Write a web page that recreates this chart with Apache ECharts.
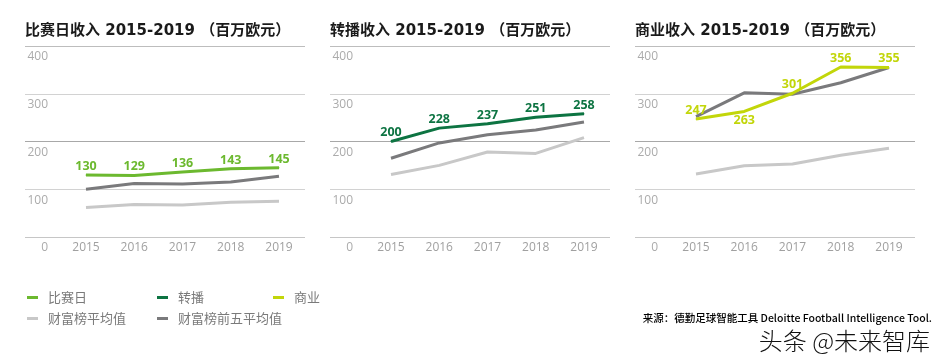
<!DOCTYPE html>
<html><head><meta charset="utf-8">
<script src="https://cdn.jsdelivr.net/npm/echarts@6/dist/echarts.min.js"></script>
<style>html,body{margin:0;padding:0;background:#fff}#c{width:940px;height:363px}</style>
</head><body><div id="c"></div>
<script>
const years = ['2015','2016','2017','2018','2019'];
const yTicks = [0,100,200,300,400];
const titles = ['比赛日收入 2015-2019 （百万欧元）','转播收入 2015-2019 （百万欧元）','商业收入 2015-2019 （百万欧元）'];
const mainNames = ['比赛日','转播','商业'];
const matchday = [130,129,136,143,145];
const broadcast = [200,228,237,251,258];
const commercial = [247,263,301,356,355];
const avgMatchday = [62,68,67,73,75];
const top5Matchday = [100,112,111,115,127];
const avgBroadcast = [131,150,178,175,208];
const top5Broadcast = [165,197,214,224,241];
const avgCommercial = [132,149,153,171,186];
const top5Commercial = [252,302,299,323,355];
const avgName = '财富榜平均值';
const top5Name = '财富榜前五平均值';
const sourceText = '来源：德勤足球智能工具 Deloitte Football Intelligence Tool.';
const watermark = '头条 @未来智库';

const colors = {'比赛日':'#6cb92f','转播':'#0d7442','商业':'#c2d60a'};
colors[avgName] = '#c8c8c8';
colors[top5Name] = '#7a7a7c';

const mainData = [matchday, broadcast, commercial];
const avgData = [avgMatchday, avgBroadcast, avgCommercial];
const top5Data = [top5Matchday, top5Broadcast, top5Commercial];
const labelPos = [
  ['top','top','top','top','top'],
  ['top','top','top','top','top'],
  ['top','bottom','top','top','top']
];

const panelLeft = [25, 330, 635];
const panelW = 280, gTop = 46, gH = 191;
const grid = [], xAxis = [], yAxis = [], series = [], title = [];
const font = "'Open Sans','Noto Sans CJK SC',sans-serif";

for (let p = 0; p < 3; p++) {
  const L = panelLeft[p];
  title.push({text: titles[p], left: L - 5, top: 19,
    textStyle:{fontFamily:"'DejaVu Sans','Noto Sans CJK SC',sans-serif", fontSize:15, fontWeight:'bold', color:'#1a1a1a'}});
  grid.push({left: L, top: gTop, width: panelW, height: gH});
  xAxis.push({type:'category', gridIndex: 2*p, data: years, show:false});
  yAxis.push({type:'value', gridIndex: 2*p, min:0, max:400, interval:100,
    axisLine:{show:false}, axisTick:{show:false},
    splitLine:{lineStyle:{color:['#c6c6c6','#d2d2d2','#a8a8a8','#d2d2d2','#bdbdbd'], width:1}},
    axisLabel:{inside:true, align:'right', verticalAlign:'top', margin:23, padding:[5,0,0,0],
      color:'#ababab', fontSize:12, fontFamily:font}});
  grid.push({left: L + 61, top: gTop, width: 193, height: gH});
  xAxis.push({type:'category', gridIndex: 2*p+1, data: years, boundaryGap:false,
    axisLine:{show:false}, axisTick:{show:false},
    axisLabel:{margin:5, color:'#a0a0a0', fontSize:12, fontFamily:font}});
  yAxis.push({type:'value', gridIndex: 2*p+1, min:0, max:400, show:false, splitLine:{show:false}});

  const base = {type:'line', xAxisIndex: 2*p+1, yAxisIndex: 2*p+1, smooth:false};
  series.push(Object.assign({}, base, {name: avgName, data: avgData[p], showSymbol:false, symbol:'none', lineStyle:{width:3, color: colors[avgName]}, itemStyle:{color: colors[avgName]}}));
  series.push(Object.assign({}, base, {name: top5Name, data: top5Data[p], showSymbol:false, symbol:'none', lineStyle:{width:3, color: colors[top5Name]}, itemStyle:{color: colors[top5Name]}}));
  const nm = mainNames[p];
  series.push(Object.assign({}, base, {name: nm, z: 5, showSymbol:true, symbol:'circle', symbolSize:1,
    data: mainData[p].map((v,i)=>({value:v, label:{position: labelPos[p][i]}})),
    lineStyle:{width:3, color: colors[nm]}, itemStyle:{color: colors[nm]},
    label:{show:true, distance:2, color: colors[nm], fontSize:12.5, fontWeight:'bold', fontFamily:font}}));
}

const legendItems = [
  {name:'比赛日', left:22, top:286},
  {name:'转播', left:152, top:286},
  {name:'商业', left:268, top:286},
  {name:avgName, left:22, top:307},
  {name:top5Name, left:152, top:307}
];
const legend = legendItems.map(it => ({
  data:[{name: it.name, icon:'rect', itemStyle:{color: colors[it.name]}}],
  left: it.left, top: it.top, itemWidth: 11, itemHeight: 3, selectedMode:false,
  textStyle:{color:'#7a7a7a', fontSize:13, fontFamily:"'Noto Sans CJK SC',sans-serif", padding:[0,0,0,5]}
}));

const chart = echarts.init(document.getElementById('c'), null, {renderer:'canvas'});
chart.setOption({
  backgroundColor:'#fff',
  animation:false,
  title, grid, xAxis, yAxis, series, legend,
  graphic:[
    {type:'text', right: 8, top: 313, style:{text: sourceText, fill:'#000', fontSize:10.5, fontWeight:500, fontFamily:"'Noto Sans CJK SC','DejaVu Sans',sans-serif"}},
    {type:'text', right: 10, top: 329, style:{text: watermark, fill:'#111', fontSize:24, fontWeight:300, fontFamily:"'Noto Sans CJK SC',sans-serif"}}
  ]
});
</script></body></html>
